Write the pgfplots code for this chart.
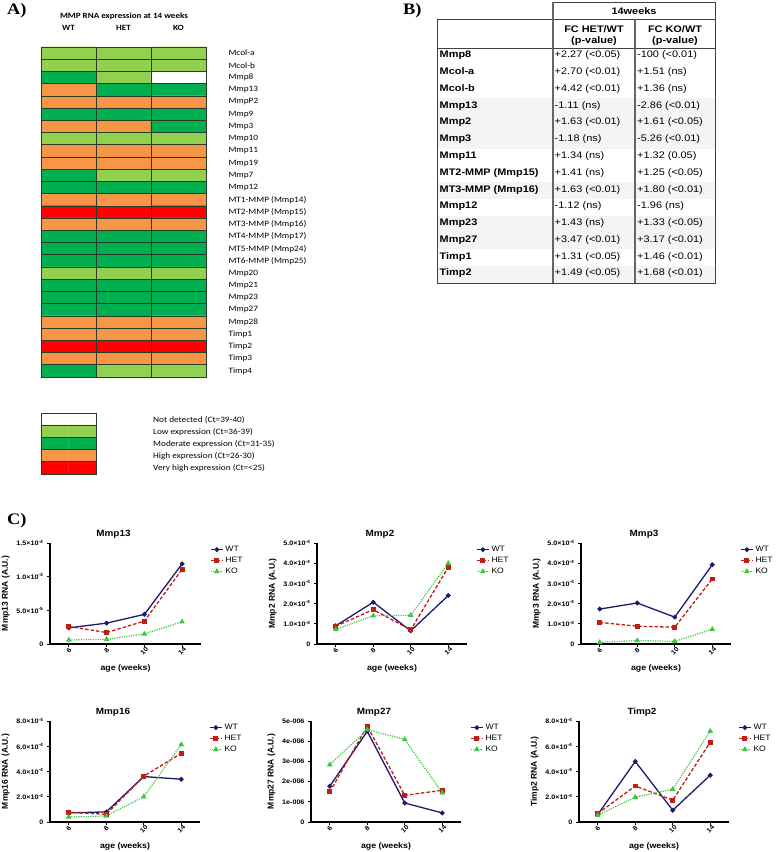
\documentclass[border=0pt]{standalone}
\usepackage{fontspec}
\setmainfont{Liberation Sans}[FakeStretch=1.1]
\newfontfamily\plainsans{Liberation Sans}
\newfontfamily\carl{Carlito}[FakeStretch=1.13]
\newfontfamily\tabf{Liberation Sans}[FakeStretch=1.15]
\newfontfamily\serifb{Liberation Serif}[FakeStretch=1.15]
\usepackage{pgfplots}
\pgfplotsset{compat=1.18}
\newcommand{\fs}[1]{\fontsize{#1}{#1}\selectfont}
\definecolor{wtc}{RGB}{26,26,110}
\definecolor{hetc}{RGB}{190,30,20}
\definecolor{koc}{RGB}{60,200,60}
\definecolor{cellline}{RGB}{40,60,40}
\pgfplotsset{
  gp/.style={
    scale only axis, width=150pt, height=101pt, anchor=south west,
    axis lines=left, axis line style={-, line width=1.1pt},
    tick align=outside, major tick length=3pt,
    tick style={line width=0.9pt, black},
    xmin=-0.5, xmax=3.5, ymin=0,
    xtick={0,1,2,3}, xticklabels={6,8,10,14},
    xticklabel style={font=\fs{6.5}\bfseries, rotate=45, anchor=center},
    xticklabel shift=4pt,
    xlabel={age (weeks)},
    xlabel style={font=\fs{8}\bfseries},
    xlabel shift=1pt,
    ylabel style={font=\plainsans\fs{8.5}\bfseries},
    yticklabel style={font=\fs{6.5}\bfseries},
    scaled y ticks=false,
    title style={font=\fs{9}\bfseries, xshift=-12pt, yshift=-5pt},
    legend style={at={(1,1)}, anchor=north west, xshift=8pt, draw=none, fill=none, font=\fs{7.8}, row sep=0pt, inner sep=1pt},
    legend cell align=left,
    legend image code/.code={\draw[mark repeat=2,mark phase=2,##1] plot coordinates {(0pt,0pt) (6pt,0pt) (12pt,0pt)};},
    clip=false,
  },
  wt/.style={color=wtc, line width=1.3pt, mark=*, mark size=1.7pt},
  het/.style={color=hetc, line width=1.3pt, dash pattern=on 3.5pt off 2pt, mark=square*, mark size=1.8pt, mark options={solid}},
  ko/.style={color=koc, line width=1.2pt, dash pattern=on 1.2pt off 1.2pt, mark=triangle*, mark size=2.1pt, mark options={solid}},
  hm/.style={
    colormap={mmp}{rgb255(0)=(255,255,255) rgb255(1)=(146,208,80) rgb255(2)=(0,176,80) rgb255(3)=(247,150,70) rgb255(4)=(255,0,0)},
    point meta min=0, point meta max=4,
    scale only axis, anchor=south west, axis on top,
    axis line style={cellline, line width=0.9pt},
    major tick length=0pt,
  },
}
\begin{document}
\begin{tikzpicture}
\useasboundingbox (0,0) rectangle (778pt,852pt);
% ---------------- Panel labels
\node[anchor=base west, inner sep=0, font=\serifb\fs{16}\bfseries] at (7pt,837pt) {A)};
\node[anchor=base west, inner sep=0, font=\serifb\fs{16}\bfseries] at (403pt,837pt) {B)};
\node[anchor=base west, inner sep=0, font=\serifb\fs{16}\bfseries] at (7pt,327pt) {C)};
% ---------------- Panel A heatmap
\node[font=\carl\fs{8}\bfseries] at (124pt,836pt) {MMP RNA expression at 14 weeks};
\node[font=\carl\fs{8}\bfseries] at (68.5pt,824pt) {WT};
\node[font=\carl\fs{8}\bfseries] at (123.5pt,824pt) {HET};
\node[font=\carl\fs{8}\bfseries] at (178.5pt,824pt) {KO};
\begin{axis}[hm,
  at={(41pt,475pt)}, width=165pt, height=330pt,
  xmin=-0.5, xmax=2.5, ymin=-0.5, ymax=26.5, y dir=reverse,
  xtick=\empty, ytick={0,...,26},
  yticklabels={Mcol-a,Mcol-b,Mmp8,Mmp13,MmpP2,Mmp9,Mmp3,Mmp10,Mmp11,Mmp19,Mmp7,Mmp12,MT1-MMP (Mmp14),MT2-MMP (Mmp15),MT3-MMP (Mmp16),MT4-MMP (Mmp17),MT5-MMP (Mmp24),MT6-MMP (Mmp25),Mmp20,Mmp21,Mmp23,Mmp27,Mmp28,Timp1,Timp2,Timp3,Timp4},
  yticklabel pos=right,
  yticklabel style={font=\carl\fs{8.2}, anchor=west, xshift=19pt},
]
\addplot[matrix plot*, mesh/cols=3, point meta=explicit] table[meta=c] {
x y c
0 0 1
1 0 1
2 0 1
0 1 1
1 1 1
2 1 1
0 2 2
1 2 1
2 2 0
0 3 3
1 3 2
2 3 2
0 4 3
1 4 3
2 4 3
0 5 2
1 5 2
2 5 2
0 6 3
1 6 3
2 6 2
0 7 1
1 7 1
2 7 1
0 8 3
1 8 3
2 8 3
0 9 3
1 9 3
2 9 3
0 10 2
1 10 1
2 10 1
0 11 2
1 11 2
2 11 2
0 12 3
1 12 3
2 12 3
0 13 4
1 13 4
2 13 4
0 14 3
1 14 3
2 14 3
0 15 2
1 15 2
2 15 2
0 16 2
1 16 2
2 16 2
0 17 2
1 17 2
2 17 2
0 18 1
1 18 1
2 18 1
0 19 2
1 19 2
2 19 2
0 20 2
1 20 2
2 20 2
0 21 2
1 21 2
2 21 2
0 22 3
1 22 3
2 22 3
0 23 3
1 23 3
2 23 3
0 24 4
1 24 4
2 24 4
0 25 3
1 25 3
2 25 3
0 26 2
1 26 1
2 26 1
};
\pgfplotsinvokeforeach{0.5,1.5,...,25.5}{\draw[cellline, line width=0.7pt] (axis cs:-0.5,#1) -- (axis cs:2.5,#1);}
\pgfplotsinvokeforeach{0.5,1.5}{\draw[cellline, line width=0.7pt] (axis cs:#1,-0.5) -- (axis cs:#1,26.5);}
\end{axis}
% legend box
\begin{axis}[hm,
  at={(41pt,378pt)}, width=55pt, height=61pt,
  xmin=-0.5, xmax=1.5, ymin=-0.5, ymax=4.5, y dir=reverse,
  xtick=\empty, ytick=\empty,
]
\addplot[matrix plot*, mesh/cols=2, point meta=explicit] table[meta=c] {
x y c
0 0 0
1 0 0
0 1 1
1 1 1
0 2 2
1 2 2
0 3 3
1 3 3
0 4 4
1 4 4
};
\pgfplotsinvokeforeach{0.5,1.5,2.5,3.5}{\draw[cellline, line width=0.7pt] (axis cs:-0.5,#1) -- (axis cs:1.5,#1);}
\end{axis}
\begin{scope}[every node/.style={anchor=west, inner sep=0, font=\carl\fs{8.2}}]
\node at (153pt,432pt) {Not detected (Ct=39-40)};
\node at (153pt,420pt) {Low expression (Ct=36-39)};
\node at (153pt,408pt) {Moderate expression (Ct=31-35)};
\node at (153pt,396pt) {High expression (Ct=26-30)};
\node at (153pt,384pt) {Very high expression (Ct=<25)};
\end{scope}
% ---------------- Panel B table
\foreach \i in {4,5,6,9,11,12,14} {
  \pgfmathsetmacro\ya{804-16.79*(\i-1)}
  \pgfmathsetmacro\yb{\ya-16.79}
  \fill[gray!9] (437pt,\ya pt) rectangle (715pt,\yb pt);
}
\draw[line width=0.9pt, black!75] (553pt,850pt) -- (715pt,850pt) -- (715pt,569pt) -- (437pt,569pt) -- (437pt,833pt) -- (715pt,833pt);
\draw[line width=0.9pt, black!75] (437pt,804pt) -- (715pt,804pt);
\draw[line width=1.4pt, black!60] (553pt,850pt) -- (553pt,569pt);
\draw[line width=1.4pt, black!60] (635pt,833pt) -- (635pt,569pt);
\node[font=\tabf\fs{9.5}\bfseries] at (634pt,841pt) {14weeks};
\node[align=center, font=\tabf\fontsize{9.5}{11}\selectfont\bfseries] at (594pt,816.5pt) {FC HET/WT\\(p-value)};
\node[align=center, font=\tabf\fontsize{9.5}{11}\selectfont\bfseries] at (675pt,816.5pt) {FC KO/WT\\(p-value)};
\foreach \i/\a/\b/\c in {1/Mmp8/+2.27 (<0.05)/-100 (<0.01),
  2/Mcol-a/+2.70 (<0.01)/+1.51 (ns),
  3/Mcol-b/+4.42 (<0.01)/+1.36 (ns),
  4/Mmp13/-1.11 (ns)/-2.86 (<0.01),
  5/Mmp2/+1.63 (<0.01)/+1.61 (<0.05),
  6/Mmp3/-1.18 (ns)/-5.26 (<0.01),
  7/Mmp11/+1.34 (ns)/+1.32 (0.05),
  8/MT2-MMP (Mmp15)/+1.41 (ns)/+1.25 (<0.05),
  9/MT3-MMP (Mmp16)/+1.63 (<0.01)/+1.80 (<0.01),
  10/Mmp12/-1.12 (ns)/-1.96 (ns),
  11/Mmp23/+1.43 (ns)/+1.33 (<0.05),
  12/Mmp27/+3.47 (<0.01)/+3.17 (<0.01),
  13/Timp1/+1.31 (<0.05)/+1.46 (<0.01),
  14/Timp2/+1.49 (<0.05)/+1.68 (<0.01)} {
  \pgfmathsetmacro\yy{852-57.7-16.79*(\i-1)}
  \node[anchor=base west, inner sep=0, font=\tabf\fs{9.5}\bfseries] at (439.5pt,\yy pt) {\a};
  \node[anchor=base west, inner sep=0, font=\tabf\fs{9.5}] at (554.5pt,\yy pt) {\b};
  \node[anchor=base west, inner sep=0, font=\tabf\fs{9.5}] at (637pt,\yy pt) {\c};
}
% ---------------- Panel C
\begin{axis}[gp, at={(50pt,208pt)}, width=151pt, ymax=1.5e-4,
  ytick={0,5e-5,1e-4,1.5e-4},
  yticklabels={0,5.0×10\textsuperscript{-5},1.0×10\textsuperscript{-4},1.5×10\textsuperscript{-4}},
  ylabel={Mmp13 RNA (A.U.)}, title={Mmp13}]
\addplot[wt] coordinates {(0,2.4e-5) (1,3.1e-5) (2,4.4e-5) (3,1.19e-4)};
\addplot[het] coordinates {(0,2.6e-5) (1,1.7e-5) (2,3.4e-5) (3,1.11e-4)};
\addplot[ko] coordinates {(0,0.6e-5) (1,0.7e-5) (2,1.5e-5) (3,3.3e-5)};
\legend{WT,HET,KO}
\end{axis}
\begin{axis}[gp, at={(317pt,208pt)}, ymax=5e-4,
  ytick={0,1e-4,2e-4,3e-4,4e-4,5e-4},
  yticklabels={0,1.0×10\textsuperscript{-4},2.0×10\textsuperscript{-4},3.0×10\textsuperscript{-4},4.0×10\textsuperscript{-4},5.0×10\textsuperscript{-4}},
  ylabel={Mmp2 RNA (A.U.)}, title={Mmp2}]
\addplot[wt] coordinates {(0,0.9e-4) (1,2.07e-4) (2,0.65e-4) (3,2.4e-4)};
\addplot[het] coordinates {(0,0.88e-4) (1,1.7e-4) (2,0.7e-4) (3,3.8e-4)};
\addplot[ko] coordinates {(0,0.72e-4) (1,1.4e-4) (2,1.42e-4) (3,4.0e-4)};
\legend{WT,HET,KO}
\end{axis}
\begin{axis}[gp, at={(581pt,208pt)}, ymax=5e-4,
  ytick={0,1e-4,2e-4,3e-4,4e-4,5e-4},
  yticklabels={0,1.0×10\textsuperscript{-4},2.0×10\textsuperscript{-4},3.0×10\textsuperscript{-4},4.0×10\textsuperscript{-4},5.0×10\textsuperscript{-4}},
  ylabel={Mmp3 RNA (A.U.)}, title={Mmp3}]
\addplot[wt] coordinates {(0,1.73e-4) (1,2.03e-4) (2,1.33e-4) (3,3.92e-4)};
\addplot[het] coordinates {(0,1.07e-4) (1,0.88e-4) (2,0.83e-4) (3,3.22e-4)};
\addplot[ko] coordinates {(0,0.08e-4) (1,0.17e-4) (2,0.13e-4) (3,0.73e-4)};
\legend{WT,HET,KO}
\end{axis}
\begin{axis}[gp, at={(50pt,30pt)}, ymax=8e-4,
  ytick={0,2e-4,4e-4,6e-4,8e-4},
  yticklabels={0,2.0×10\textsuperscript{-4},4.0×10\textsuperscript{-4},6.0×10\textsuperscript{-4},8.0×10\textsuperscript{-4}},
  ylabel={Mmp16 RNA (A.U.)}, title={Mmp16}]
\addplot[wt] coordinates {(0,0.72e-4) (1,0.8e-4) (2,3.6e-4) (3,3.39e-4)};
\addplot[het] coordinates {(0,0.77e-4) (1,0.61e-4) (2,3.63e-4) (3,5.44e-4)};
\addplot[ko] coordinates {(0,0.4e-4) (1,0.48e-4) (2,2.0e-4) (3,6.13e-4)};
\legend{WT,HET,KO}
\end{axis}
\begin{axis}[gp, at={(311pt,30pt)}, ymax=5e-6,
  ytick={0,1e-6,2e-6,3e-6,4e-6,5e-6},
  yticklabels={0,1e-006,2e-006,3e-006,4e-006,5e-006},
  ylabel={Mmp27 RNA (A.U.)}, title={Mmp27}]
\addplot[wt] coordinates {(0,1.77e-6) (1,4.49e-6) (2,0.94e-6) (3,0.45e-6)};
\addplot[het] coordinates {(0,1.49e-6) (1,4.74e-6) (2,1.32e-6) (3,1.57e-6)};
\addplot[ko] coordinates {(0,2.84e-6) (1,4.57e-6) (2,4.09e-6) (3,1.44e-6)};
\legend{WT,HET,KO}
\end{axis}
\begin{axis}[gp, at={(579pt,30pt)}, ymax=8e-4,
  ytick={0,2e-4,4e-4,6e-4,8e-4},
  yticklabels={0,2.0×10\textsuperscript{-4},4.0×10\textsuperscript{-4},6.0×10\textsuperscript{-4},8.0×10\textsuperscript{-4}},
  ylabel={Timp2 RNA (A.U.)}, title={Timp2}]
\addplot[wt] coordinates {(0,0.59e-4) (1,4.8e-4) (2,0.93e-4) (3,3.71e-4)};
\addplot[het] coordinates {(0,0.67e-4) (1,2.85e-4) (2,1.73e-4) (3,6.32e-4)};
\addplot[ko] coordinates {(0,0.53e-4) (1,1.97e-4) (2,2.59e-4) (3,7.2e-4)};
\legend{WT,HET,KO}
\end{axis}
\end{tikzpicture}
\end{document}
